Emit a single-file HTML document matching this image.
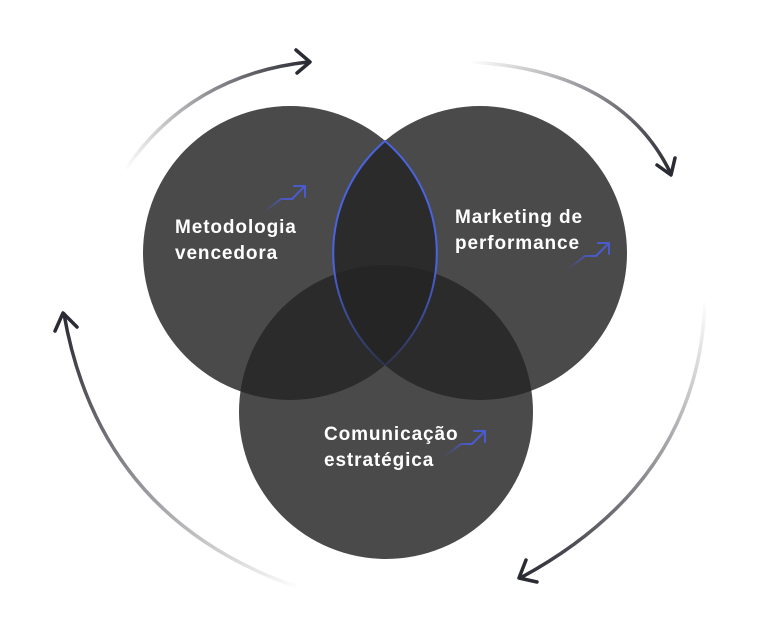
<!DOCTYPE html>
<html><head><meta charset="utf-8"><style>
html,body{margin:0;padding:0;background:#fff;}
svg{display:block}
text{font-family:"Liberation Sans",sans-serif;font-weight:bold;font-size:19px;letter-spacing:0.9px;fill:#fff}
</style></head><body>
<svg width="768" height="629" viewBox="0 0 768 629" xmlns="http://www.w3.org/2000/svg">
<defs>
<clipPath id="cL"><circle cx="290" cy="253" r="147"/></clipPath>
<clipPath id="cR"><circle cx="480" cy="253" r="147"/></clipPath>
<linearGradient id="g1" gradientUnits="userSpaceOnUse" x1="125" y1="170" x2="310" y2="62"><stop offset="0" stop-color="#2a2b33" stop-opacity="0"/><stop offset="1" stop-color="#2a2b33"/></linearGradient>
<linearGradient id="g2" gradientUnits="userSpaceOnUse" x1="470" y1="62" x2="672" y2="172"><stop offset="0" stop-color="#2a2b33" stop-opacity="0"/><stop offset="1" stop-color="#2a2b33"/></linearGradient>
<linearGradient id="g3" gradientUnits="userSpaceOnUse" x1="705" y1="300" x2="520" y2="578"><stop offset="0" stop-color="#2a2b33" stop-opacity="0"/><stop offset="1" stop-color="#2a2b33"/></linearGradient>
<linearGradient id="g4" gradientUnits="userSpaceOnUse" x1="300" y1="588" x2="62" y2="315"><stop offset="0" stop-color="#2a2b33" stop-opacity="0"/><stop offset="1" stop-color="#2a2b33"/></linearGradient>
<linearGradient id="ib" x1="0" y1="1" x2="1" y2="0"><stop offset="0" stop-color="#4a5bd0" stop-opacity="0"/><stop offset="0.6" stop-color="#4a5bd0"/><stop offset="1" stop-color="#4a5bd0"/></linearGradient>
<linearGradient id="lens" gradientUnits="userSpaceOnUse" x1="0" y1="141" x2="0" y2="365"><stop offset="0" stop-color="#4a63e0"/><stop offset="0.55" stop-color="#4a63e0"/><stop offset="1" stop-color="#4a63e0" stop-opacity="0.2"/></linearGradient>
</defs>
<g fill="none" stroke-width="3.5" stroke-linecap="round" stroke-linejoin="round">
<path d="M125 170 Q190 75 308 62" stroke="url(#g1)"/>
<path d="M296 50 L310 62 L297 73" stroke="#2a2b33"/>
<path d="M470 62 Q620 70 670 172" stroke="url(#g2)"/>
<path d="M657 165 L671 175 L675 158" stroke="#2a2b33"/>
<path d="M705 300 Q700 480 522 577" stroke="url(#g3)"/>
<path d="M526 560 L519 578 L537 582" stroke="#2a2b33"/>
<path d="M300 588 Q100 520 64 314" stroke="url(#g4)"/>
<path d="M55 331 L63 313 L77 327" stroke="#2a2b33"/>
</g>
<circle cx="290" cy="253" r="147" fill="#4a4a4a"/>
<circle cx="480" cy="253" r="147" fill="#4a4a4a"/>
<circle cx="386" cy="412" r="147" fill="#4a4a4a"/>
<g fill="#2b2b2b">
<circle cx="480" cy="253" r="147" clip-path="url(#cL)"/>
<circle cx="386" cy="412" r="147" clip-path="url(#cL)"/>
<circle cx="386" cy="412" r="147" clip-path="url(#cR)"/>
</g>
<g clip-path="url(#cL)"><circle cx="386" cy="412" r="147" fill="#252525" clip-path="url(#cR)"/></g>
<path d="M385 141 A147 147 0 0 1 385 365 A147 147 0 0 1 385 141 Z" fill="none" stroke="url(#lens)" stroke-width="2"/>
<g fill="none" stroke="url(#ib)" stroke-width="2" stroke-linecap="round" stroke-linejoin="round">
<path d="M264 212 L281 199 L292 199 L305 186"/>
<path d="M568 269 L585 256 L596 256 L609 243"/>
<path d="M444 457 L461 444 L472 444 L485 431"/>
</g>
<g fill="none" stroke="#4a5bd0" stroke-width="2" stroke-linecap="round" stroke-linejoin="round">
<path d="M294 186 L305 186 L305 197"/>
<path d="M598 243 L609 243 L609 254"/>
<path d="M474 431 L485 431 L485 442"/>
</g>
<text x="175" y="233">Metodologia</text>
<text x="175" y="259">vencedora</text>
<text x="455" y="223">Marketing de</text>
<text x="455" y="249">performance</text>
<text x="324" y="440">Comunicação</text>
<text x="324" y="466">estratégica</text>
</svg>
</body></html>
